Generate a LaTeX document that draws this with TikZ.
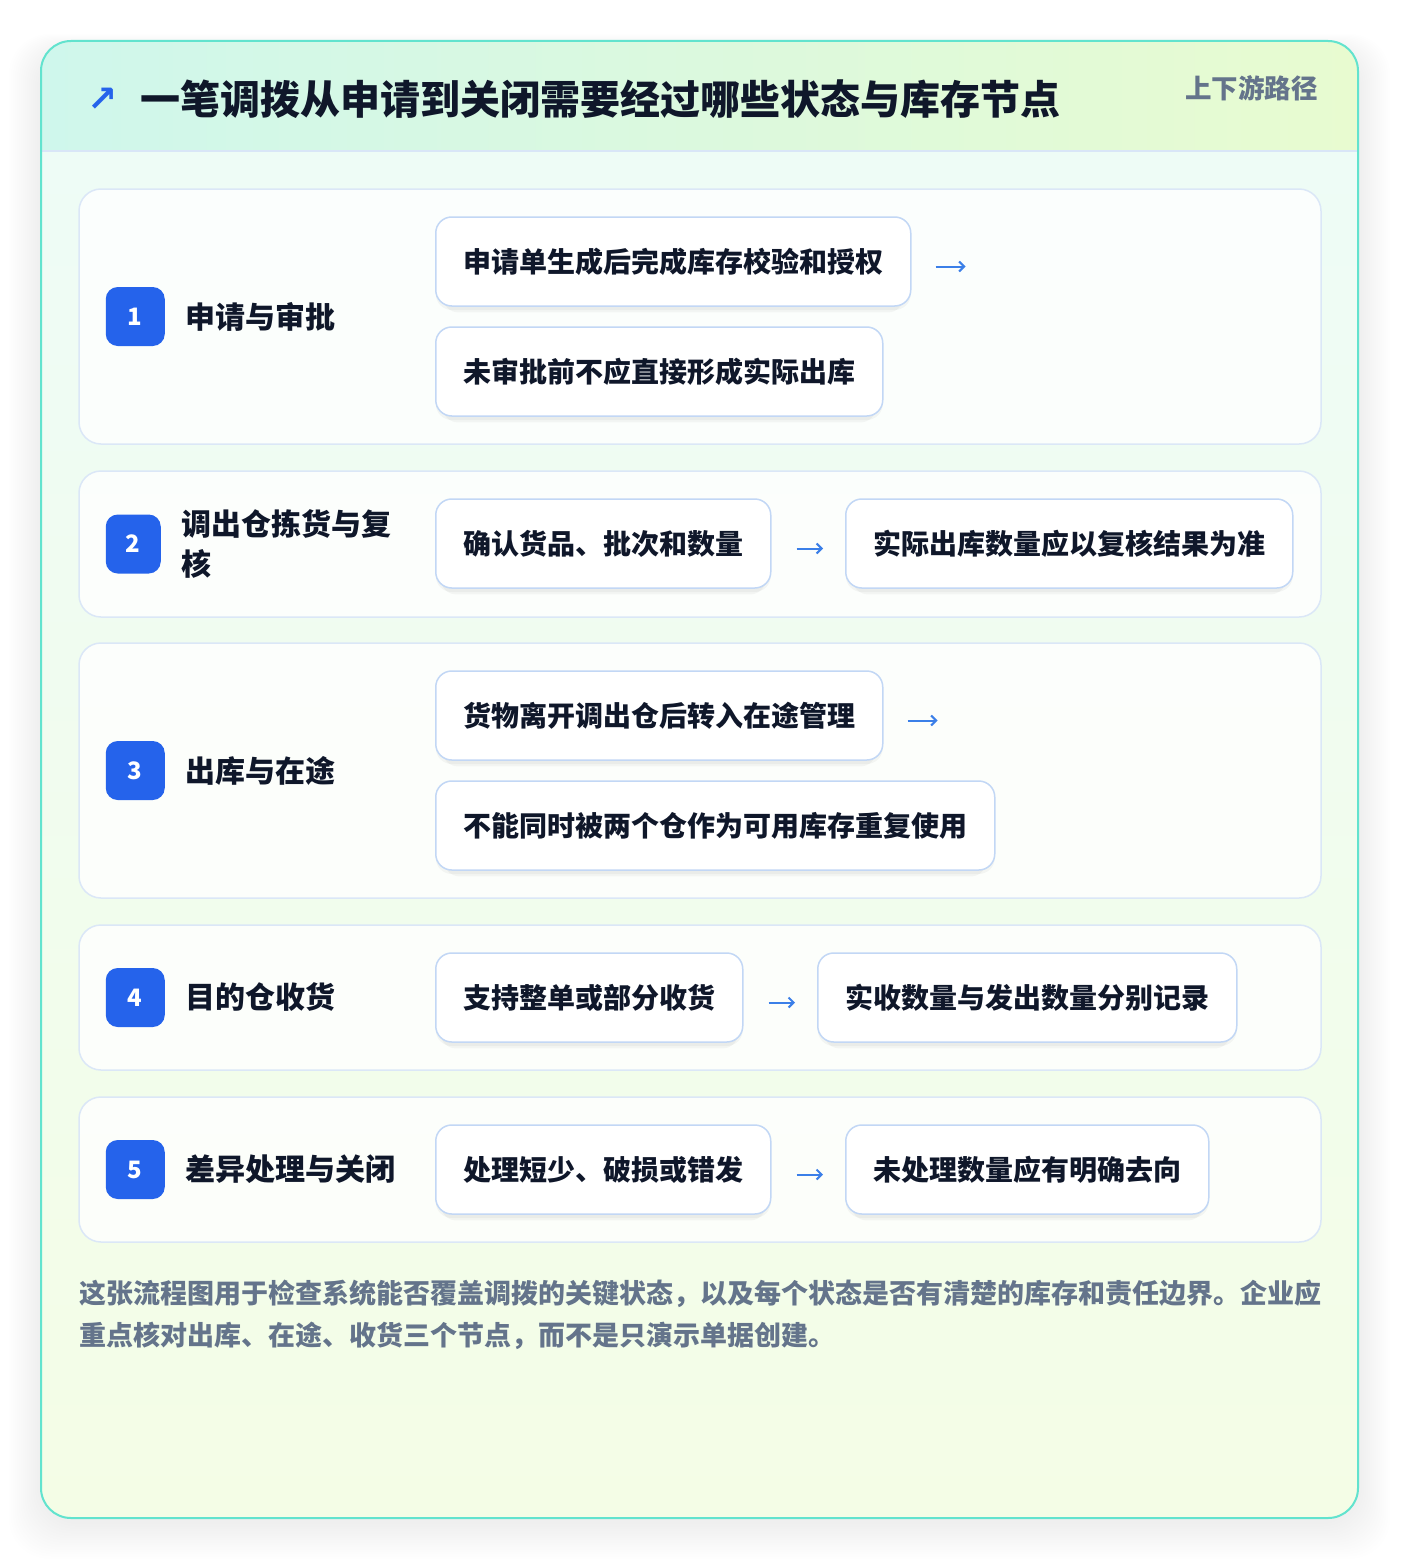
\documentclass[tikz,border=0pt]{standalone}
\usepackage{fontspec}
\setmainfont{Noto Sans CJK SC}
\newfontfamily\symfont{DejaVu Sans}
\usetikzlibrary{positioning,arrows.meta,shadows}

\definecolor{titlec}{HTML}{0F172A}
\definecolor{tagc}{HTML}{64748B}
\definecolor{cardline}{HTML}{DBE7F7}
\definecolor{boxline}{HTML}{C2D7F5}
\definecolor{badgec}{HTML}{2563EB}
\definecolor{flowc}{HTML}{3B7FE8}
\definecolor{tealc}{HTML}{62E3CE}
\definecolor{headl}{HTML}{CFF7EC}
\definecolor{headr}{HTML}{E8FBD0}
\definecolor{bodytop}{HTML}{EEFCF6}
\definecolor{bodybot}{HTML}{F4FDE6}
\definecolor{hline}{HTML}{D9E6F7}

\tikzset{
    card/.style={draw=cardline, line width=1.5, fill=white, fill opacity=0.8,
                 rounded corners=22, minimum width=1242, inner sep=0},
    badge/.style={fill=badgec, rounded corners=12, minimum width=59, minimum height=59,
                  inner sep=0, text=white, font=\fontsize{24}{24}\selectfont\bfseries},
    steplabel/.style={inner sep=0, text=titlec, align=left,
                      font=\fontsize{30}{40}\selectfont\bfseries},
    box/.style={draw=boxline, line width=1.5, fill=white, rounded corners=16,
                minimum height=89, inner xsep=27.5, inner ysep=0, anchor=west, text=titlec,
                font=\fontsize{28}{28}\selectfont\bfseries,
                drop shadow={shadow xshift=0pt, shadow yshift=-8pt, shadow scale=0.97,
                             opacity=0.035, fill=black},
                drop shadow={shadow xshift=0pt, shadow yshift=-4pt, shadow scale=1,
                             opacity=0.035, fill=black}},
    flow/.style={flowc, line width=2, -{Straight Barb[length=5pt, width=10pt]}},
}

\begin{document}
\begin{tikzpicture}[x=1pt, y=-1pt]
    \useasboundingbox (0,0) rectangle (1400,1560);
    \fill[white] (0,0) rectangle (1400,1560);
    % soft shadow of the big card
    \foreach \i in {1,...,16}
        \fill[black, opacity=0.005, rounded corners=40]
            ({41-2*\i},{50-\i}) rectangle ({1358+2*\i},{1522+2.3*\i});

    % big card with header band
    \begin{scope}
        \clip[rounded corners=30] (41,41) rectangle (1358,1518);
        \shade[top color=bodytop, bottom color=bodybot] (41,151) rectangle (1358,1518);
        \shade[left color=headl, right color=headr] (41,41) rectangle (1358,151);
    \end{scope}
    \draw[hline, line width=1.5] (42,151) -- (1357,151);
    \draw[tealc, line width=2, rounded corners=30] (41,41) rectangle (1358,1518);

    \node[anchor=base west, inner sep=0, text=titlec,
          font=\fontsize{40}{40}\selectfont\bfseries] (title) at (140,115)
        {一笔调拨从申请到关闭需要经过哪些状态与库存节点};
    \node[left=22pt of title, inner sep=0, text=badgec,
          font=\symfont\bfseries\fontsize{36}{36}\selectfont] (icon) {↗};
    \node[anchor=base east, inner sep=0, text=tagc,
          font=\fontsize{26.5}{26.5}\selectfont\bfseries] (route) at (1318,99) {上下游路径};

    % step 1
    \node[card, minimum height=255] (s1) at (700,316.5) {};
    \node[badge] (n1) at ([xshift=57]s1.west) {1};
    \node[steplabel, right=20pt of n1] (l1) {申请与审批};
    \node[box] (b1a) at (435,261.5) {申请单生成后完成库存校验和授权};
    \node[box] (b1b) at (435,371.5) {未审批前不应直接形成实际出库};
    \coordinate (e1) at ([xshift=54,yshift=-5]b1a.east);
    \draw[flow] ([xshift=24,yshift=-5]b1a.east) -- (e1);

    % step 2
    \node[card, minimum height=146] (s2) at (700,544) {};
    \node[badge, minimum width=55] (n2) at ([xshift=55]s2.west) {2};
    \node[steplabel, right=20pt of n2] (l2) {调出仓拣货与复\\核};
    \node[box] (b2a) at (435,543.5) {确认货品、批次和数量};
    \node[box] (b2b) at (845,543.5) {实际出库数量应以复核结果为准};
    \draw[flow] ([xshift=25,yshift=-5]b2a.east) -- ([xshift=-22,yshift=-5]b2b.west);

    % step 3
    \node[card, minimum height=255] (s3) at (700,770.5) {};
    \node[badge] (n3) at ([xshift=57]s3.west) {3};
    \node[steplabel, right=20pt of n3] (l3) {出库与在途};
    \node[box] (b3a) at (435,715.5) {货物离开调出仓后转入在途管理};
    \node[box] (b3b) at (435,825.5) {不能同时被两个仓作为可用库存重复使用};
    \coordinate (e3) at ([xshift=54,yshift=-5]b3a.east);
    \draw[flow] ([xshift=24,yshift=-5]b3a.east) -- (e3);

    % step 4
    \node[card, minimum height=145] (s4) at (700,997.5) {};
    \node[badge] (n4) at ([xshift=57]s4.west) {4};
    \node[steplabel, right=20pt of n4] (l4) {目的仓收货};
    \node[box] (b4a) at (435,997.5) {支持整单或部分收货};
    \node[box] (b4b) at (817,997.5) {实收数量与发出数量分别记录};
    \draw[flow] ([xshift=25,yshift=-5]b4a.east) -- ([xshift=-22,yshift=-5]b4b.west);

    % step 5
    \node[card, minimum height=145] (s5) at (700,1169.5) {};
    \node[badge] (n5) at ([xshift=57]s5.west) {5};
    \node[steplabel, right=20pt of n5] (l5) {差异处理与关闭};
    \node[box] (b5a) at (435,1169.5) {处理短少、破损或错发};
    \node[box] (b5b) at (845,1169.5) {未处理数量应有明确去向};
    \draw[flow] ([xshift=25,yshift=-5]b5a.east) -- ([xshift=-22,yshift=-5]b5b.west);

    % note below the steps
    \node[anchor=north west, inner sep=0, text=tagc, align=left,
          font=\fontsize{27}{42}\selectfont\bfseries] (note) at (79,1280)
        {这张流程图用于检查系统能否覆盖调拨的关键状态，以及每个状态是否有清楚的库存和责任边界。企业应\\
         重点核对出库、在途、收货三个节点，而不是只演示单据创建。};
\end{tikzpicture}
\end{document}
